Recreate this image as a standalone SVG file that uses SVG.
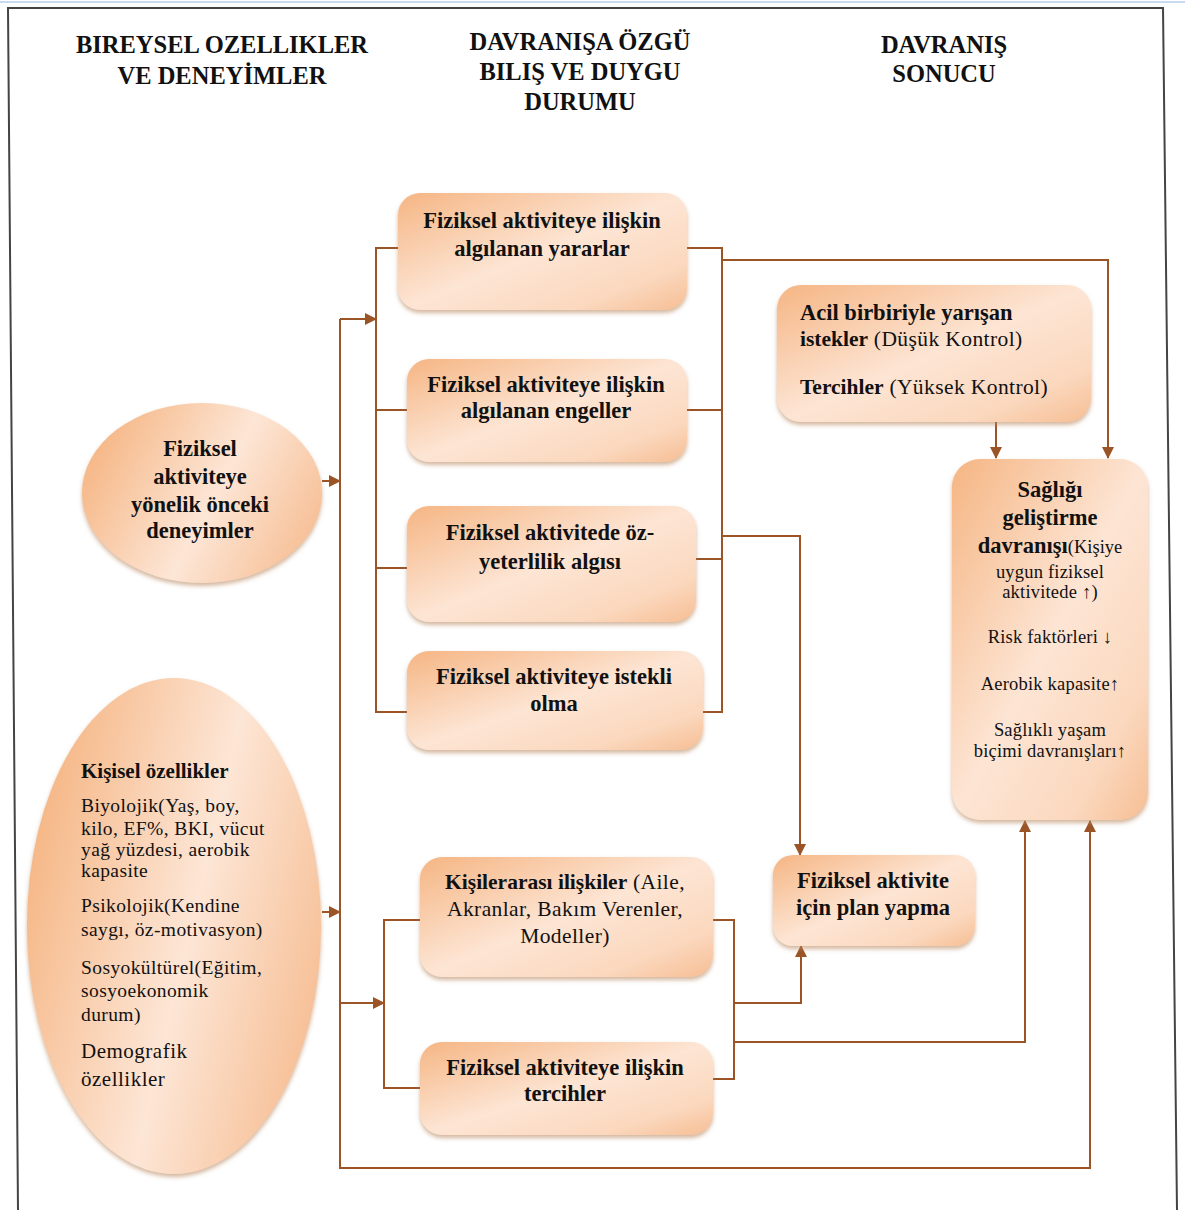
<svg xmlns="http://www.w3.org/2000/svg" width="1185" height="1210" viewBox="0 0 1185 1210">
<defs>
<linearGradient id="gb" x1="0" y1="0" x2="1" y2="1">
<stop offset="0" stop-color="#F5B583"/>
<stop offset="0.5" stop-color="#FDE5D4"/>
<stop offset="0.8" stop-color="#FBD8BE"/>
<stop offset="1" stop-color="#F6BE94"/>
</linearGradient>
<linearGradient id="ge" x1="0" y1="0.3" x2="1" y2="0.7">
<stop offset="0" stop-color="#F5B583"/>
<stop offset="0.55" stop-color="#FDE6D6"/>
<stop offset="1" stop-color="#F6BE94"/>
</linearGradient>
<filter id="sh" x="-10%" y="-10%" width="120%" height="125%">
<feDropShadow dx="0" dy="3" stdDeviation="2" flood-color="#B8865E" flood-opacity="0.6"/>
</filter>
<marker id="ar" markerUnits="userSpaceOnUse" markerWidth="12" markerHeight="12" refX="11" refY="6" orient="auto">
<path d="M0,0 L12,6 L0,12 Z" fill="#9A5426"/>
</marker>
</defs>
<style>
.node{fill:url(#gb);filter:url(#sh);}
.ell{fill:url(#ge);filter:url(#sh);}
.c{fill:none;stroke:#9A5426;stroke-width:2;}
.ca{fill:none;stroke:#9A5426;stroke-width:2;marker-end:url(#ar);}
text{font-family:"Liberation Serif","Times New Roman",serif;fill:#111;}
.h{font-size:24.5px;font-weight:bold;text-anchor:middle;}
.t{font-size:22.5px;font-weight:bold;text-anchor:middle;}
.tn{font-size:21.5px;letter-spacing:0.4px;text-anchor:middle;}
.tl{font-size:21.5px;letter-spacing:0.4px;}
.s{font-size:18.5px;letter-spacing:0.2px;text-anchor:middle;}
.l{font-size:19.5px;letter-spacing:0.4px;}
.lb{font-size:21px;font-weight:bold;}
.lg{font-size:21px;letter-spacing:0.5px;}
.b{font-weight:bold;}
.n{font-weight:normal;}
</style>
<rect width="1185" height="1210" fill="#fff"/>
<line x1="0" y1="2" x2="1185" y2="2" stroke="#C9DBF2" stroke-width="2"/>
<path d="M18,1210 L8,8 H1163 L1177,1210" fill="none" stroke="#444" stroke-width="2"/>

<g id="headers">
<text class="h" x="222" y="53">BIREYSEL OZELLIKLER</text>
<text class="h" x="222" y="84">VE DENEYİMLER</text>
<text class="h" x="580" y="50">DAVRANIŞA ÖZGÜ</text>
<text class="h" x="580" y="80">BILIŞ VE DUYGU</text>
<text class="h" x="580" y="110">DURUMU</text>
<text class="h" x="944" y="53">DAVRANIŞ</text>
<text class="h" x="944" y="82">SONUCU</text>
</g>

<g id="connectors">
<path class="ca" d="M322,481 H340"/>
<path class="ca" d="M322,912 H340"/>
<path class="c" d="M340,319 V1168 H1090 V830"/>
<path class="ca" d="M1090,840 V821"/>
<path class="ca" d="M340,319 H376"/>
<path class="ca" d="M340,1003 H384"/>
<path class="c" d="M398,248 H376 V712 H407 M376,410 H407 M376,568 H407"/>
<path class="c" d="M687,248 H722 V712 H703 M687,410 H722 M696,559 H722"/>
<path class="ca" d="M722,260 H1108 V458"/>
<path class="ca" d="M722,536 H800 V855"/>
<path class="ca" d="M996,422 V458"/>
<path class="c" d="M420,920 H384 V1088 H420"/>
<path class="c" d="M713,920 H734 V1079 H713"/>
<path class="ca" d="M734,1003 H801 V946"/>
<path class="ca" d="M734,1042 H1025 V821"/>
</g>

<g id="n-yararlar">
<rect class="node" x="398" y="193" width="289" height="117" rx="22"/>
<text class="t" x="542" y="228">Fiziksel aktiviteye ilişkin</text>
<text class="t" x="542" y="256">algılanan yararlar</text>
</g>
<g id="n-engeller">
<rect class="node" x="407" y="359" width="280" height="103" rx="22"/>
<text class="t" x="546" y="392">Fiziksel aktiviteye ilişkin</text>
<text class="t" x="546" y="418">algılanan engeller</text>
</g>
<g id="n-ozyeterlilik">
<rect class="node" x="407" y="506" width="289" height="116" rx="22"/>
<text class="t" x="550" y="540">Fiziksel aktivitede öz-</text>
<text class="t" x="550" y="569">yeterlilik algısı</text>
</g>
<g id="n-istekli">
<rect class="node" x="407" y="651" width="296" height="99" rx="22"/>
<text class="t" x="554" y="684">Fiziksel aktiviteye istekli</text>
<text class="t" x="554" y="711">olma</text>
</g>
<g id="n-kisilerarasi">
<rect class="node" x="420" y="857" width="293" height="120" rx="22"/>
<text class="tn" x="565" y="889"><tspan class="b" style="letter-spacing:0">Kişilerarası ilişkiler</tspan> (Aile,</text>
<text class="tn" x="565" y="916">Akranlar, Bakım Verenler,</text>
<text class="tn" x="565" y="943">Modeller)</text>
</g>
<g id="n-tercihler">
<rect class="node" x="420" y="1042" width="293" height="93" rx="22"/>
<text class="t" x="565" y="1075">Fiziksel aktiviteye ilişkin</text>
<text class="t" x="565" y="1101">tercihler</text>
</g>
<g id="n-plan">
<rect class="node" x="773" y="855" width="202" height="91" rx="20"/>
<text class="t" x="873" y="888">Fiziksel aktivite</text>
<text class="t" x="873" y="915">için plan yapma</text>
</g>
<g id="n-acil">
<rect class="node" x="777" y="285" width="314" height="137" rx="24"/>
<text class="t" x="800" y="320" style="text-anchor:start">Acil birbiriyle yarışan</text>
<text class="tl" x="800" y="346"><tspan class="b" style="letter-spacing:0">istekler</tspan> (Düşük Kontrol)</text>
<text class="tl" x="800" y="394"><tspan class="b" style="letter-spacing:0">Tercihler</tspan> (Yüksek Kontrol)</text>
</g>
<g id="n-saglik">
<rect class="node" x="952" y="459" width="196" height="361" rx="28"/>
<text class="t" x="1050" y="497">Sağlığı</text>
<text class="t" x="1050" y="525">geliştirme</text>
<text class="t" x="1050" y="553">davranışı<tspan class="n" style="font-size:18.5px">(Kişiye</tspan></text>
<text class="s" x="1050" y="578">uygun fiziksel</text>
<text class="s" x="1050" y="598">aktivitede ↑)</text>
<text class="s" x="1050" y="643">Risk faktörleri ↓</text>
<text class="s" x="1050" y="690">Aerobik kapasite↑</text>
<text class="s" x="1050" y="736">Sağlıklı yaşam</text>
<text class="s" x="1050" y="757">biçimi davranışları↑</text>
</g>
<g id="n-onceki">
<ellipse class="ell" cx="202" cy="493" rx="120" ry="90"/>
<text class="t" x="200" y="456">Fiziksel</text>
<text class="t" x="200" y="484">aktiviteye</text>
<text class="t" x="200" y="512">yönelik önceki</text>
<text class="t" x="200" y="538">deneyimler</text>
</g>
<g id="n-kisisel">
<ellipse class="ell" cx="174" cy="926" rx="147" ry="248"/>
<text class="lb" x="81" y="778">Kişisel özellikler</text>
<text class="l" x="81" y="812">Biyolojik(Yaş, boy,</text>
<text class="l" x="81" y="835">kilo, EF%, BKI, vücut</text>
<text class="l" x="81" y="856">yağ yüzdesi, aerobik</text>
<text class="l" x="81" y="877">kapasite</text>
<text class="l" x="81" y="912">Psikolojik(Kendine</text>
<text class="l" x="81" y="936">saygı, öz-motivasyon)</text>
<text class="l" x="81" y="974">Sosyokültürel(Eğitim,</text>
<text class="l" x="81" y="997">sosyoekonomik</text>
<text class="l" x="81" y="1021">durum)</text>
<text class="lg" x="81" y="1058">Demografik</text>
<text class="lg" x="81" y="1086">özellikler</text>
</g>
</svg>
